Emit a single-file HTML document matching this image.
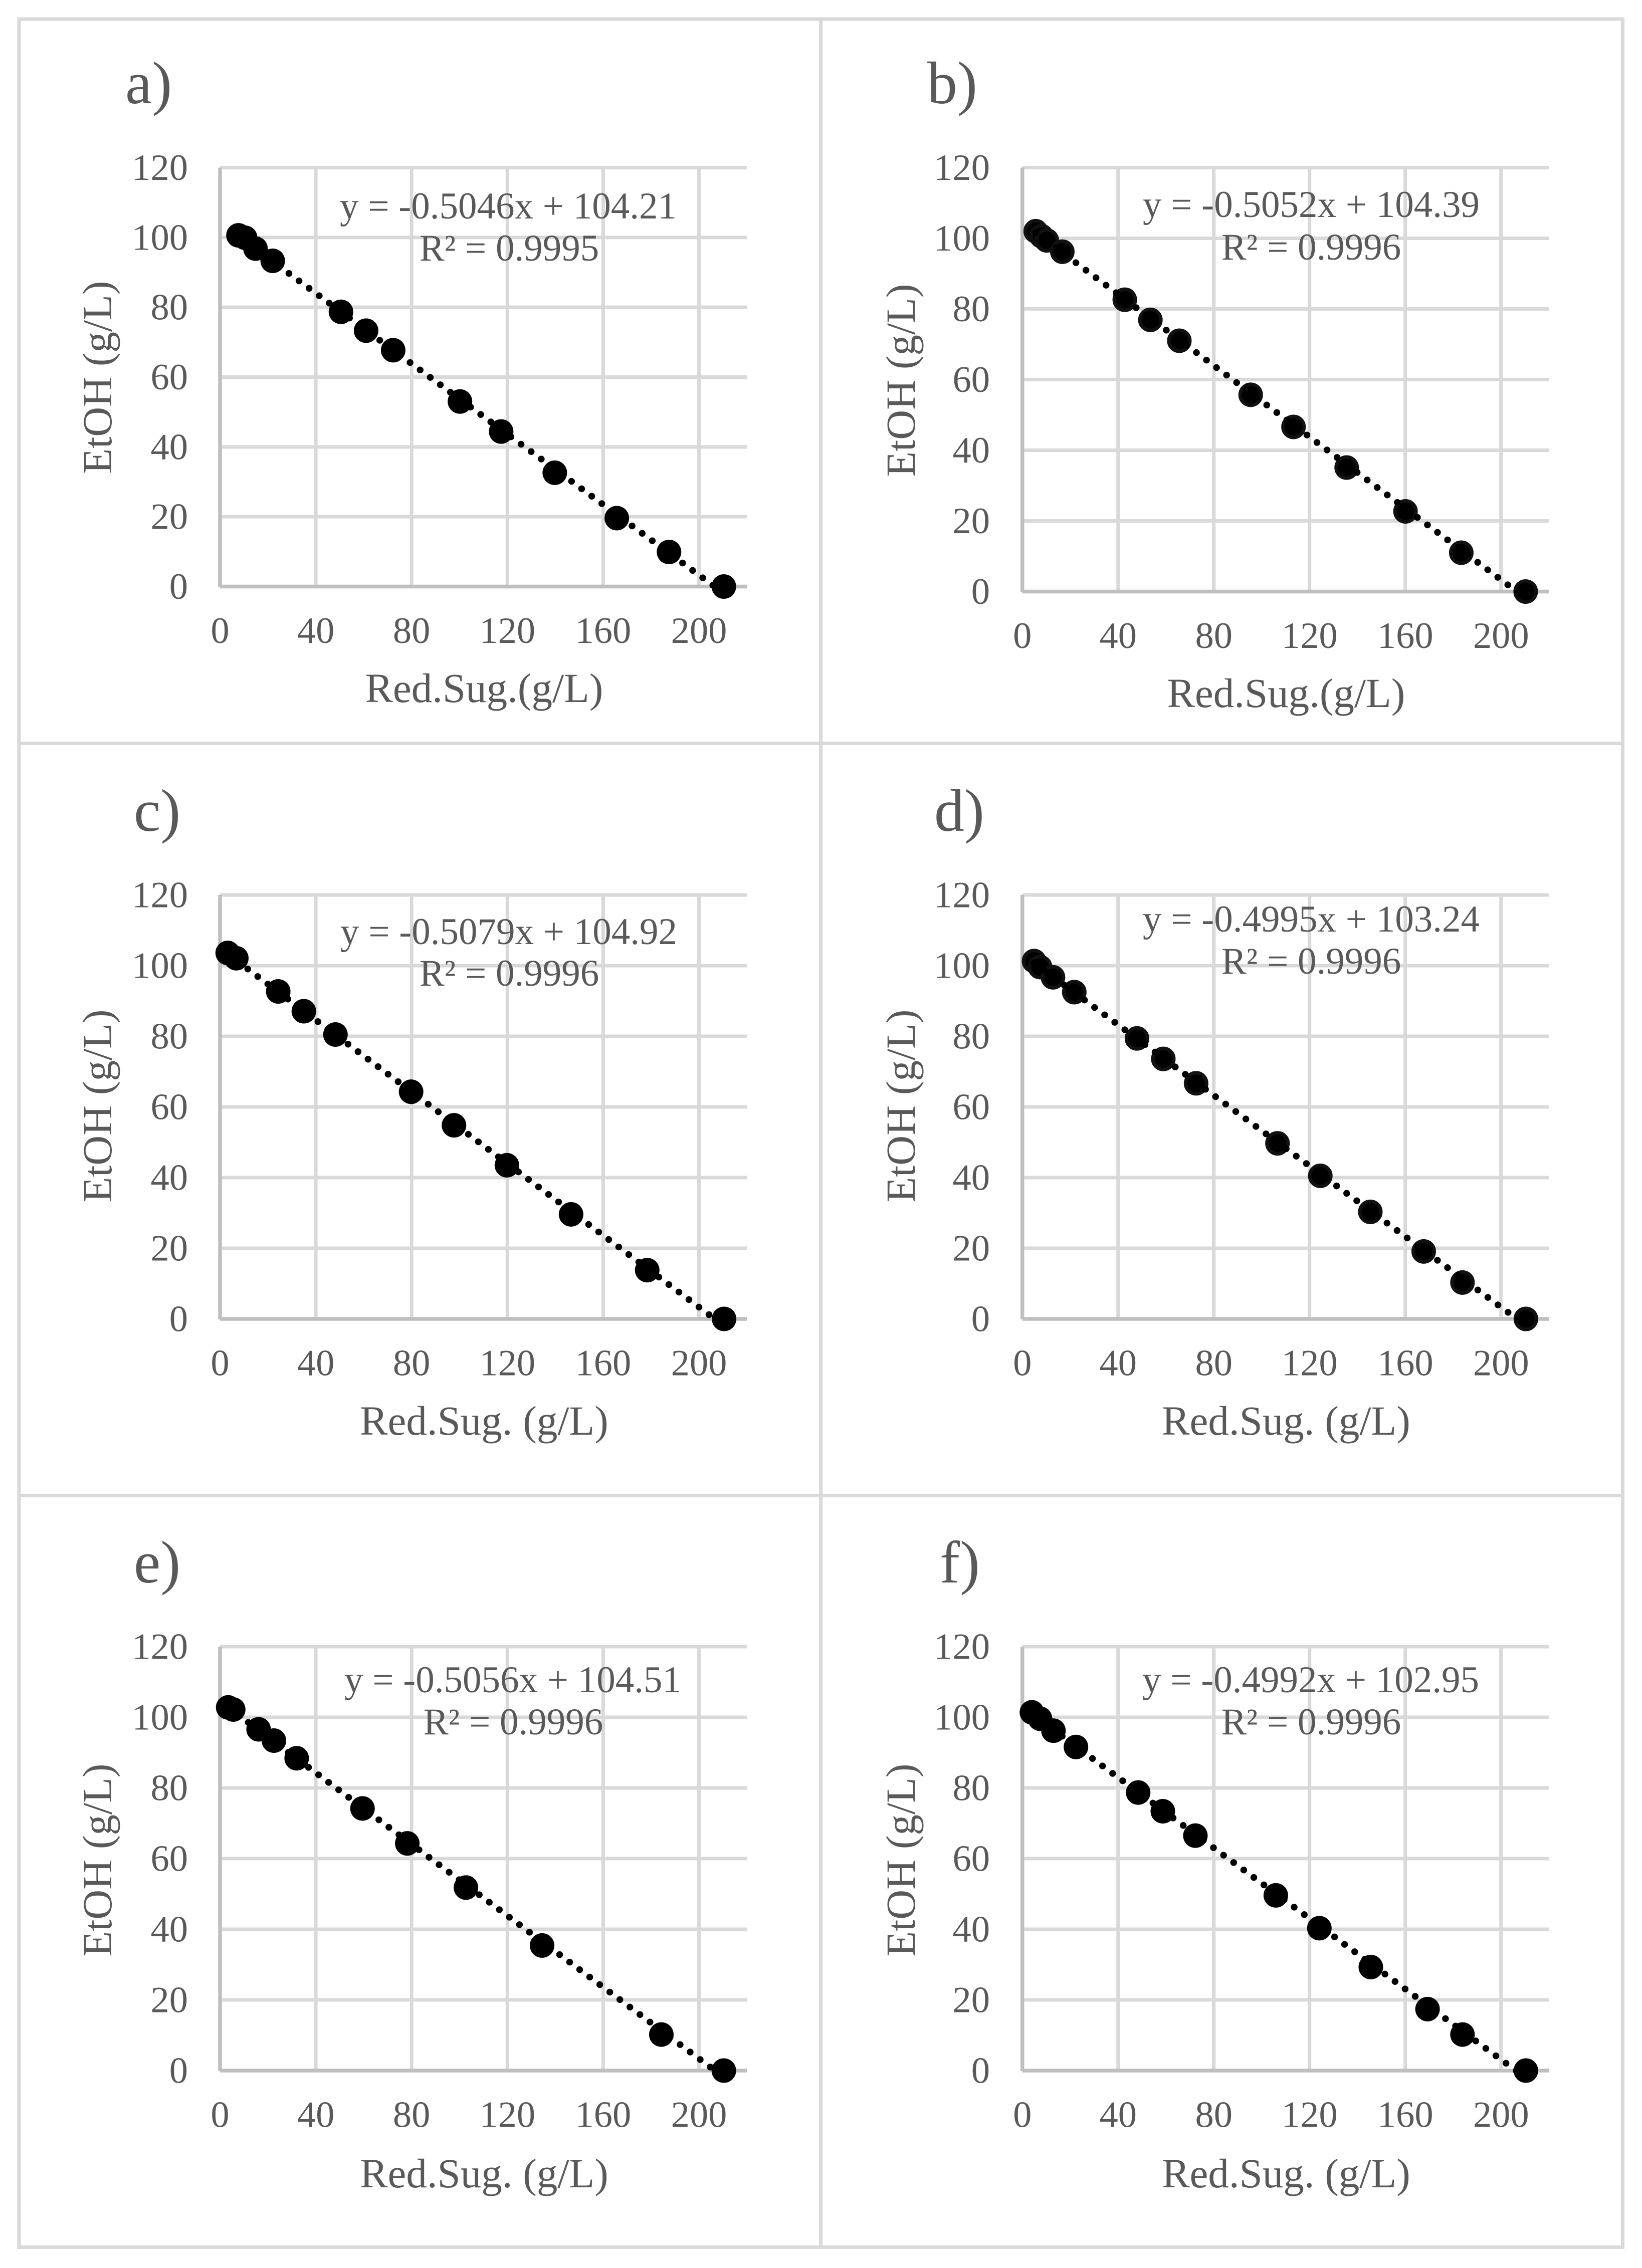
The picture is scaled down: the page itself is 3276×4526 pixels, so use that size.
<!DOCTYPE html>
<html lang="en">
<head>
<meta charset="utf-8">
<title>Ethanol vs reducing sugar regressions</title>
<style>
html,body{margin:0;padding:0;background:#fff;}
body{width:3276px;height:4526px;overflow:hidden;}
svg{display:block;}
text{font-family:"Liberation Serif","Times New Roman",serif;fill:#595959;}
</style>
</head>
<body>
<svg id="figure" xmlns="http://www.w3.org/2000/svg" width="3276" height="4526" viewBox="0 0 3276 4526">
  <rect x="0" y="0" width="3276" height="4526" fill="#ffffff"/>
  <g fill="none" stroke="#d9d9d9" stroke-width="7">
    <rect x="38" y="38" width="3199.5" height="4446.5"/>
    <line x1="1637.7" y1="38" x2="1637.7" y2="4484.5"/>
    <line x1="38" y1="1483.5" x2="3237.5" y2="1483.5"/>
    <line x1="38" y1="2984.5" x2="3237.5" y2="2984.5"/>
  </g>
</svg>
<script>
// Axis ticks shared by every panel
const xTicks = [0, 40, 80, 120, 160, 200];
const yTicks = [0, 20, 40, 60, 80, 100, 120];
const xMax = 220;
const yMax = 120;

// Panel a
const sugarA = [7.7, 10.5, 14.8, 22, 50.5, 61, 72.3, 100.2, 117.4, 139.8, 165.7, 187.5, 210.4];
const etohA = [100.6, 99.9, 96.8, 93.3, 78.7, 73.3, 67.7, 53, 44.4, 32.6, 19.6, 9.9, 0];
// Panel b
const sugarB = [5.6, 8, 10.2, 16.7, 42.8, 53.5, 65.6, 95.4, 113.3, 135.5, 160.1, 183.4, 210.3];
const etohB = [102, 100.6, 99.4, 96.2, 82.6, 76.9, 71, 55.7, 46.6, 35.1, 22.7, 11, 0];
// Panel c
const sugarC = [3.2, 6.8, 24.3, 35, 48.2, 79.8, 97.7, 119.8, 146.6, 178.4, 210.5];
const etohC = [103.6, 102.1, 92.7, 87.1, 80.5, 64.3, 54.8, 43.5, 29.6, 13.8, 0];
// Panel d
const sugarD = [4.9, 7.4, 12.8, 21.7, 47.9, 58.9, 72.6, 106.6, 124.5, 145.4, 167.7, 183.9, 210.4];
const etohD = [101.3, 99.6, 96.7, 92.5, 79.4, 73.6, 66.7, 49.7, 40.5, 30.3, 19.1, 10.3, 0];
// Panel e
const sugarE = [3.4, 5.5, 16.1, 22.5, 32, 59.5, 78.2, 102.7, 134.5, 184.3, 210.4];
const etohE = [102.8, 102.2, 96.6, 93.4, 88.4, 74.2, 64.3, 51.8, 35.4, 10.2, 0];
// Panel f
const sugarF = [4, 7.4, 13, 22.4, 48.4, 58.7, 72.3, 105.9, 124.1, 145.6, 169.3, 183.9, 210.4];
const etohF = [101.4, 99.6, 96.2, 91.6, 78.7, 73.4, 66.5, 49.6, 40.3, 29.3, 17.4, 10.2, 0];

// Fitted trendlines and printed labels
const slopes = [-0.5046, -0.5052, -0.5079, -0.4995, -0.5056, -0.4992];
const intercepts = [104.21, 104.39, 104.92, 103.24, 104.51, 102.95];
const rSquared = ["0.9995", "0.9996", "0.9996", "0.9996", "0.9996", "0.9996"];
const panelLetters = ["a)", "b)", "c)", "d)", "e)", "f)"];
const xTitles = ["Red.Sug.(g/L)", "Red.Sug.(g/L)", "Red.Sug. (g/L)", "Red.Sug. (g/L)", "Red.Sug. (g/L)", "Red.Sug. (g/L)"];
const yTitle = "EtOH (g/L)";
const sugarSeries = [sugarA, sugarB, sugarC, sugarD, sugarE, sugarF];
const etohSeries = [etohA, etohB, etohC, etohD, etohE, etohF];

// Layout only, separate from the data above
const layouts = [
  {left:439, right:1490, top:334.5, bottom:1170.5, tickX:375, titleX:966, titleY:1401, yTitleX:222, yTitleY:753, eqX:1014, eqY:436, r2X:1016, r2Y:520, letterX:250, letterY:206, ring:false},
  {left:2039.7, right:3090.2, top:334.5, bottom:1180.5, tickX:1975, titleX:2566, titleY:1411, yTitleX:1825, yTitleY:759, eqX:2616, eqY:433, r2X:2616, r2Y:518, letterX:1850, letterY:206, ring:true},
  {left:439, right:1490, top:1786, bottom:2632, tickX:375, titleX:966, titleY:2863, yTitleX:222, yTitleY:2207, eqX:1015, eqY:1884, r2X:1016, r2Y:1967, letterX:267, letterY:1658, ring:false},
  {left:2039.7, right:3090.2, top:1786, bottom:2632, tickX:1975, titleX:2566, titleY:2863, yTitleX:1825, yTitleY:2207, eqX:2616, eqY:1859, r2X:2616, r2Y:1943, letterX:1864, letterY:1658, ring:true},
  {left:439, right:1490, top:3286, bottom:4132, tickX:375, titleX:966, titleY:4365, yTitleX:222, yTitleY:3712, eqX:1023, eqY:3377, r2X:1024, r2Y:3461, letterX:267, letterY:3158, ring:false},
  {left:2039.7, right:3090.2, top:3286, bottom:4132, tickX:1975, titleX:2566, titleY:4365, yTitleX:1825, yTitleY:3712, eqX:2615, eqY:3377, r2X:2616, r2Y:3461, letterX:1875, letterY:3158, ring:false}
];

const svg = document.getElementById('figure');
const NS = 'http://www.w3.org/2000/svg';

function make(tag, parent, attrs) {
  const el = document.createElementNS(NS, tag);
  Object.keys(attrs).forEach(function (k) { el.setAttribute(k, attrs[k]); });
  parent.appendChild(el);
  return el;
}

function drawPanel(i) {
  const L = layouts[i];
  const sugar = sugarSeries[i];
  const etoh = etohSeries[i];
  const xPerUnit = (L.right - L.left) / xMax;
  const yPerUnit = (L.bottom - L.top) / yMax;
  const xScale = function (v) { return L.left + v * xPerUnit; };
  const yScale = function (v) { return L.bottom - v * yPerUnit; };

  const g = make('g', svg, {});
  
  

  yTicks.forEach(function (t) {
    if (t === 0) return;
    const line = make('line', g, {x1: L.left, x2: L.right, y1: yScale(t), y2: yScale(t), stroke: '#d9d9d9', 'stroke-width': 7});
    
    
  });
  xTicks.forEach(function (t) {
    if (t === 0) return;
    const line = make('line', g, {x1: xScale(t), x2: xScale(t), y1: L.top, y2: L.bottom, stroke: '#d9d9d9', 'stroke-width': 7});
    
    
  });

  const yAxis = make('line', g, {x1: L.left, x2: L.left, y1: L.top, y2: L.bottom + 1, stroke: '#bfbfbf', 'stroke-width': 7.5});
  
  
  const xAxis = make('line', g, {x1: L.left, x2: L.right, y1: L.bottom, y2: L.bottom, stroke: '#bfbfbf', 'stroke-width': 7.5});
  
  

  yTicks.forEach(function (t) {
    const label = make('text', g, {x: L.tickX, y: yScale(t) + 24.5, 'text-anchor': 'end', 'font-size': 74.5});
    label.textContent = String(t);
    
    
  });
  xTicks.forEach(function (t) {
    const label = make('text', g, {x: xScale(t), y: L.bottom + 112.5, 'text-anchor': 'middle', 'font-size': 74.5});
    label.textContent = String(t);
    
    
  });

  const letter = make('text', g, {x: L.letterX, y: L.letterY, 'font-size': 120});
  letter.textContent = panelLetters[i];
  
  

  const xt = make('text', g, {x: L.titleX, y: L.titleY, 'text-anchor': 'middle', 'font-size': 83});
  xt.textContent = xTitles[i];
  
  

  const yt = make('text', g, {x: 0, y: 0, 'text-anchor': 'middle', 'font-size': 83, transform: 'translate(' + L.yTitleX + ' ' + L.yTitleY + ') rotate(-90)'});
  yt.textContent = yTitle;
  
  

  const eq = make('text', g, {x: L.eqX, y: L.eqY, 'text-anchor': 'middle', 'font-size': 75});
  eq.textContent = 'y = ' + slopes[i].toFixed(4) + 'x + ' + intercepts[i].toFixed(2);
  
  

  const r2 = make('text', g, {x: L.r2X, y: L.r2Y, 'text-anchor': 'middle', 'font-size': 75});
  r2.textContent = 'R\u00B2 = ' + rSquared[i];
  
  

  sugar.forEach(function (v, k) {
    const dot = make('circle', g, {cx: xScale(v), cy: yScale(etoh[k]), r: L.ring ? 21 : 24.5, fill: '#000', stroke: L.ring ? '#111' : 'none', 'stroke-width': L.ring ? 7 : 0});
    
    
  });

  const x1 = Math.min.apply(null, sugar);
  const x2 = Math.max.apply(null, sugar);
  const trend = make('line', g, {
    x1: xScale(x1), y1: yScale(slopes[i] * x1 + intercepts[i]),
    x2: xScale(x2), y2: yScale(slopes[i] * x2 + intercepts[i]),
    stroke: '#000', 'stroke-width': 13.5, 'stroke-linecap': 'round', 'stroke-dasharray': '0 25'
  });
  
  
}

panelLetters.forEach(function (_, i) { drawPanel(i); });
</script>
</body>
</html>
